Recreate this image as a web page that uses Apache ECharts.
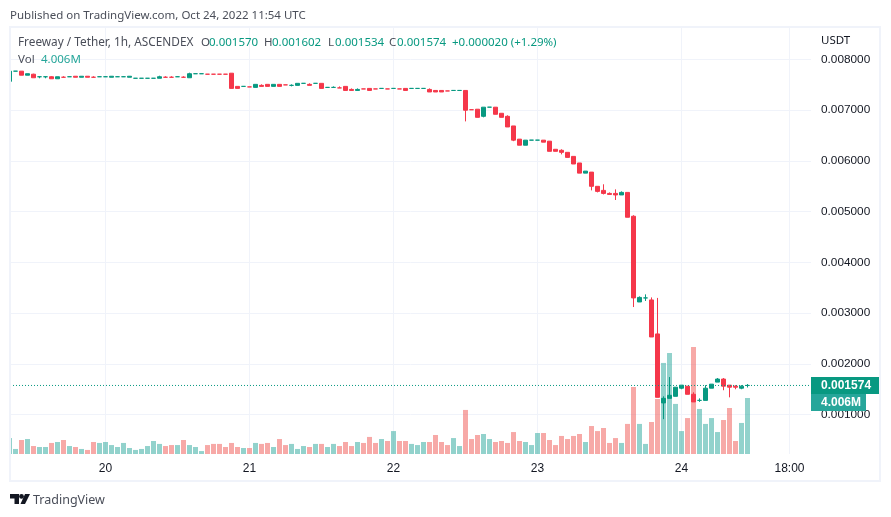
<!DOCTYPE html>
<html>
<head>
<meta charset="utf-8">
<title>Freeway / Tether</title>
<script src="https://cdn.jsdelivr.net/npm/echarts@6/dist/echarts.min.js"></script>
<style>
    html, body { margin: 0; padding: 0; background: #fff; }
    #chart { width: 891px; height: 517px; }
</style>
</head>
<body>
<div id="chart"></div>
<script>
// 1h candles
const opens = [
    .00757,.00776,.00777,.00769,.00771,.00765,.00765,.00766,.00762,.00766,
    .00765,.00767,.00765,.00767,.00766,.00765,.00765,.00765,.00765,.00765,
    .00765,.00762,.00762,.00762,.00762,.00763,.00766,.00766,.00765,.00766,
    .00764,.00771,.00771,.00772,.00772,.00772,.00772,.00773,.00747,.00746,
    .00747,.00745,.00749,.00751,.00747,.00751,.00751,.00748,.00749,.00752,
    .00751,.00752,.00753,.00744,.00744,.00745,.00747,.00741,.00739,.00743,
    .00743,.00743,.00742,.00743,.00742,.00743,.00743,.00742,.00742,.00742,
    .00741,.00739,.00739,.00739,.00738,.00738,.00739,.00702,.00702,.00688,
    .00705,.00706,.00694,.00688,.00669,.00643,.00631,.00640,.00640,.00641,
    .00639,.00623,.00621,.00617,.00609,.00596,.00576,.00578,.00550,.00542,
    .00536,.00536,.00533,.00538,.00491,.00322,.00329,.00326,.00259,.00123,
    .00132,.00136,.00152,.00156,.00140,.00127,.00128,.00152,.00164,.00170,
    .00158,.00156,.00152,.00157
];
const closes = [
    .00777,.00777,.00769,.00772,.00764,.00766,.00766,.00762,.00766,.00765,
    .00766,.00765,.00767,.00765,.00765,.00766,.00766,.00767,.00766,.00766,
    .00767,.00763,.00763,.00763,.00763,.00766,.00765,.00765,.00766,.00765,
    .00772,.00772,.00772,.00771,.00771,.00771,.00771,.00743,.00743,.00747,
    .00746,.00751,.00747,.00747,.00751,.00747,.00750,.00749,.00753,.00753,
    .00749,.00753,.00743,.00745,.00745,.00744,.00739,.00739,.00741,.00742,
    .00739,.00742,.00743,.00742,.00743,.00742,.00739,.00743,.00743,.00743,
    .00736,.00736,.00736,.00738,.00739,.00739,.00700,.00701,.00686,.00706,
    .00706,.00692,.00686,.00667,.00641,.00631,.00641,.00641,.00641,.00637,
    .00619,.00619,.00617,.00607,.00594,.00576,.00580,.00550,.00540,.00536,
    .00534,.00533,.00538,.00489,.00330,.00331,.00330,.00253,.00134,.00132,
    .00138,.00154,.00158,.00140,.00125,.00128,.00152,.00160,.00170,.00156,
    .00154,.00154,.00156,.001574
];
const lows = [
    .00757,.00776,.00769,.00769,.00764,.00763,.00763,.00762,.00762,.00765,
    .00765,.00765,.00765,.00765,.00765,.00765,.00765,.00765,.00765,.00765,
    .00765,.00762,.00762,.00762,.00762,.00763,.00765,.00765,.00765,.00765,
    .00764,.00771,.00771,.00771,.00771,.00771,.00771,.00743,.00743,.00746,
    .00746,.00745,.00747,.00747,.00747,.00747,.00750,.00747,.00749,.00752,
    .00749,.00752,.00743,.00744,.00744,.00744,.00739,.00739,.00739,.00742,
    .00739,.00742,.00742,.00742,.00742,.00742,.00739,.00742,.00742,.00742,
    .00736,.00736,.00736,.00738,.00738,.00738,.00678,.00701,.00686,.00686,
    .00705,.00692,.00686,.00667,.00639,.00631,.00631,.00640,.00640,.00637,
    .00619,.00619,.00613,.00607,.00594,.00576,.00576,.00542,.00538,.00534,
    .00534,.00523,.00533,.00489,.00312,.00322,.00324,.00253,.00134,.00091,
    .00132,.00136,.00150,.00140,.00125,.00125,.00128,.00152,.00164,.00148,
    .00134,.00150,.00150,.001534
];
const highs = [
    .00777,.00777,.00777,.00772,.00772,.00767,.00767,.00767,.00766,.00767,
    .00767,.00767,.00767,.00767,.00767,.00767,.00767,.00767,.00767,.00767,
    .00767,.00763,.00763,.00763,.00763,.00768,.00767,.00767,.00767,.00767,
    .00774,.00772,.00772,.00772,.00772,.00772,.00772,.00773,.00747,.00747,
    .00747,.00751,.00751,.00751,.00751,.00751,.00751,.00751,.00753,.00753,
    .00753,.00753,.00753,.00745,.00747,.00747,.00747,.00743,.00743,.00743,
    .00743,.00743,.00743,.00743,.00743,.00743,.00743,.00743,.00743,.00743,
    .00743,.00739,.00739,.00739,.00739,.00739,.00739,.00702,.00702,.00706,
    .00706,.00706,.00694,.00690,.00669,.00643,.00641,.00641,.00641,.00641,
    .00639,.00623,.00623,.00617,.00609,.00596,.00580,.00578,.00550,.00554,
    .00538,.00544,.00540,.00538,.00493,.00333,.00337,.00331,.00330,.00136,
    .00174,.00154,.00158,.00156,.00144,.00132,.00158,.00160,.00172,.00172,
    .00158,.00158,.00158,.001602
];
// 成交量，单位 M
const volumes = [
    1.14,.36,1.00,1.07,.57,.50,.50,.79,.86,1.00,.57,.50,.36,.29,.86,.79,.86,.64,.50,.79,
    .43,.29,.36,.57,.93,.72,.57,.64,.64,1.00,.64,.50,.21,.64,.72,.72,.50,.79,.50,.43,
    .43,.79,.72,.79,.50,1.07,.64,.72,.36,.57,.50,.72,.72,.50,.72,.57,.86,.57,.86,.79,
    1.22,.79,1.07,.93,1.64,.93,.93,.72,.64,.86,.86,1.36,.86,.64,1.14,.57,3.15,1.07,1.36,1.43,
    1.07,.86,.93,.79,1.57,.93,.86,.64,1.50,1.50,1.00,.64,1.29,1.07,1.29,1.43,.86,2.00,1.64,1.86,
    .79,1.14,.79,2.15,4.79,2.15,.72,2.29,3.93,6.51,7.22,3.58,1.64,2.57,7.65,3.22,2.15,2.57,1.57,2.43,
    3.29,.93,2.22,4.006
];
const priceTicks = [0.001, 0.002, 0.003, 0.004, 0.005, 0.006, 0.007, 0.008];
const timeTicks = [16, 40, 64, 88, 112, 130];
const timeLabels = ['20', '21', '22', '23', '24', '18:00'];
const lastPrice = 0.001574;

const X_MIN = 0.083;
const X_MAX = 133.58;

const UP = '#089981';
const DOWN = '#f5374a';
const UP_VOL = 'rgba(38,166,154,0.5)';
const DOWN_VOL = 'rgba(239,83,80,0.5)';
const GRID = '#f0f3fa';
const FONT = '"Noto Sans", sans-serif';
const AXIS_FONT = '"Liberation Sans", sans-serif';

// 实体不足一个像素的K线画成一条细线
const candleData = opens.map((o, i) => {
    const c = closes[i];
    if (Math.abs(c - o) >= 0.000015) {
        return [i, o, c, lows[i], highs[i]];
    }
    const color = c >= o ? UP : DOWN;
    return {
        value: [i, c, c, lows[i] === o ? c : lows[i], highs[i] === o ? c : highs[i]],
        itemStyle: { color: color, color0: color, borderColor: color, borderColor0: color, borderColorDoji: color }
    };
});
const volumeData = volumes.map((v, i) => ({
    value: [i, v],
    itemStyle: { color: closes[i] >= opens[i] ? UP_VOL : DOWN_VOL }
}));

// 图例文字
function headerText(text, x, y, color, size) {
    return {
        type: 'text',
        silent: true,
        z: 10,
        x: x,
        y: y + 1,
        style: { text: text, fill: color, font: (size || 11.5) + 'px ' + FONT, textVerticalAlign: 'middle' }
    };
}

const graphics = [
    headerText('Published on TradingView.com, Oct 24, 2022 11:54 UTC', 10, 15, '#4a4e59'),
    headerText('Freeway / Tether, 1h, ASCENDEX', 18, 42, '#4a4e59', 11.8),
    headerText('O', 201, 42, '#4a4e59'), headerText('0.001570', 209, 42, UP),
    headerText('H', 264, 42, '#4a4e59'), headerText('0.001602', 272, 42, UP),
    headerText('L', 328, 42, '#4a4e59'), headerText('0.001534', 335, 42, UP),
    headerText('C', 389, 42, '#4a4e59'), headerText('0.001574', 397, 42, UP),
    headerText('+0.000020 (+1.29%)', 452, 42, UP),
    headerText('Vol', 18, 59, '#4a4e59'), headerText('4.006M', 41, 59, '#26a69a'),
    headerText('USDT', 821, 40, '#131722'),
    // 盖住左侧超出的部分
    {
        type: 'rect',
        silent: true,
        z: 11,
        shape: { x: 0, y: 27, width: 10, height: 454 },
        style: { fill: '#fff' }
    },
    // 外框
    {
        type: 'rect',
        silent: true,
        z: 12,
        shape: { x: 10, y: 27, width: 870, height: 454 },
        style: { fill: 'none', stroke: GRID, lineWidth: 2 }
    },
    // 成交量标签
    {
        type: 'rect',
        silent: true,
        z: 20,
        shape: { x: 811, y: 394, width: 55, height: 17 },
        style: { fill: '#26a69a' }
    },
    {
        type: 'text',
        silent: true,
        z: 21,
        x: 821,
        y: 402.5,
        style: { text: '4.006M', fill: '#fff', font: 'bold 12px ' + AXIS_FONT, textVerticalAlign: 'middle' }
    },
    // TradingView 标志
    {
        type: 'polygon',
        silent: true,
        shape: { points: [[10, 494], [19, 494], [19, 504], [14.5, 504], [14.5, 498.5], [10, 498.5]] },
        style: { fill: '#131722' }
    },
    {
        type: 'circle',
        silent: true,
        shape: { cx: 21.5, cy: 496.4, r: 2.4 },
        style: { fill: '#131722' }
    },
    {
        type: 'polygon',
        silent: true,
        shape: { points: [[25, 494], [30, 494], [25, 504], [20.5, 504]] },
        style: { fill: '#131722' }
    },
    headerText('TradingView', 33, 499, '#4a4e59', 12.5)
];

const dom = document.getElementById('chart');
const myChart = echarts.init(dom);

const option = {
    animation: false,
    backgroundColor: '#fff',
    grid: { left: 10, right: 80, top: 28, height: 426, containLabel: false },
    xAxis: {
        type: 'value',
        min: X_MIN,
        max: X_MAX,
        axisLine: { show: false },
        axisTick: { show: false, customValues: timeTicks },
        splitLine: { show: true, lineStyle: { color: GRID, width: 1 } },
        axisLabel: {
            customValues: timeTicks,
            formatter: value => timeLabels[timeTicks.indexOf(value)],
            color: '#131722',
            fontFamily: AXIS_FONT,
            fontSize: 12,
            margin: 9
        }
    },
    yAxis: [
        {
            type: 'value',
            position: 'right',
            min: 0.000223,
            max: 0.008621,
            axisLine: { show: false },
            axisTick: { show: false, customValues: priceTicks },
            splitLine: { show: true, lineStyle: { color: GRID, width: 1 } },
            axisLabel: {
                customValues: priceTicks,
                formatter: value => value.toFixed(6),
                color: '#131722',
                fontFamily: AXIS_FONT,
                fontSize: 11.8,
                margin: 10,
                padding: [2, 0, 0, 0]
            }
        },
        {
            // 成交量轴，不显示
            type: 'value',
            show: false,
            min: 0,
            max: 30.46,
            splitLine: { show: false }
        }
    ],
    series: [
        {
            name: 'Vol',
            type: 'bar',
            yAxisIndex: 1,
            barWidth: 5,
            clip: true,
            silent: true,
            z: 2,
            data: volumeData
        },
        {
            name: 'Freeway / Tether',
            type: 'candlestick',
            yAxisIndex: 0,
            barWidth: 4,
            clip: true,
            silent: true,
            z: 3,
            encode: { x: 0, y: [1, 2, 3, 4] },
            itemStyle: {
                color: UP,
                color0: DOWN,
                borderColor: UP,
                borderColor0: DOWN,
                borderWidth: 1
            },
            data: candleData
        },
        {
            // 最新价虚线
            name: 'Last',
            type: 'line',
            yAxisIndex: 0,
            silent: true,
            z: 4,
            showSymbol: false,
            lineStyle: { color: UP, type: [1, 2], width: 1 },
            endLabel: {
                show: true,
                distance: 0,
                formatter: () => lastPrice.toFixed(6),
                color: '#fff',
                fontFamily: AXIS_FONT,
                fontWeight: 'bold',
                fontSize: 12,
                backgroundColor: UP,
                padding: [3, 8, 2, 10]
            },
            data: [[X_MIN, lastPrice], [X_MAX, lastPrice]]
        }
    ],
    graphic: graphics
};

myChart.setOption(option);

window.addEventListener('resize', function () {
    myChart.resize();
});
</script>
</body>
</html>
